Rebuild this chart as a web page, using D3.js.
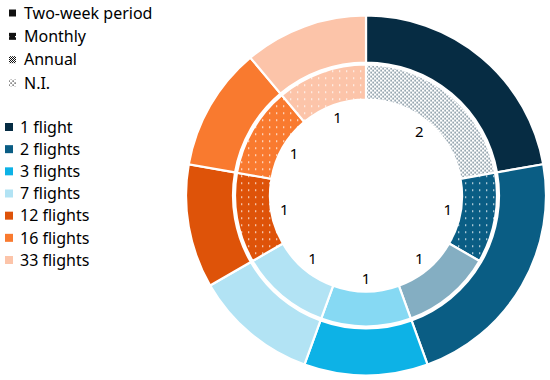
<!DOCTYPE html>
<html><head><meta charset="utf-8">
<script src="https://cdn.jsdelivr.net/npm/d3@7"></script>
<style>body{margin:0;background:#fff;} text{font-family:"Noto Sans",sans-serif;}</style>
</head><body>
<svg id="chart" width="550" height="380"></svg>
<script>
// Outer ring: number of flights
const flightCategories = ["1 flight","2 flights","3 flights","7 flights","12 flights","16 flights","33 flights"];
const flightCounts = [2,2,1,1,1,1,1];
const flightColors = ["#062c43","#0a5d84","#0db2e6","#b2e3f4","#de5309","#f97a2f","#fcc4a9"];
// Inner ring: reporting frequency within each flight group
const innerFlight = ["1 flight","2 flights","2 flights","3 flights","7 flights","12 flights","16 flights","33 flights"];
const innerFrequency = ["N.I.","Monthly","Annual","Annual","Two-week period","Monthly","Monthly","Monthly"];
const innerCounts = [2,1,1,1,1,1,1,1];
const frequencyLabels = ["Two-week period","Monthly","Annual","N.I."];

const svg = d3.select("#chart");
const defs = svg.append("defs");
const cx = 366, cy = 195.5;

function makePattern(id, type, color){
  const p = defs.append("pattern").attr("id", id).attr("patternUnits","userSpaceOnUse");
  if(type === "Two-week period"){
    p.attr("width",4).attr("height",4);
    p.append("rect").attr("width",4).attr("height",4).attr("fill",color);
  } else if(type === "Monthly"){
    p.attr("width",7).attr("height",7);
    p.append("rect").attr("width",7).attr("height",7).attr("fill",color);
    p.append("rect").attr("x",1).attr("y",1).attr("width",1.3).attr("height",1.3).attr("fill","#fff");
  } else if(type === "Annual"){
    p.attr("width",2).attr("height",2);
    p.append("rect").attr("width",2).attr("height",2).attr("fill","#fff");
    p.append("rect").attr("width",1).attr("height",1).attr("fill",color);
    p.append("rect").attr("x",1).attr("y",1).attr("width",1).attr("height",1).attr("fill",color);
  } else {
    p.attr("width",4).attr("height",4);
    p.append("rect").attr("width",4).attr("height",4).attr("fill","#fff");
    p.append("rect").attr("x",0.5).attr("y",0.5).attr("width",1.2).attr("height",1.2).attr("fill",color);
    p.append("rect").attr("x",2.5).attr("y",2.5).attr("width",1.2).attr("height",1.2).attr("fill",color);
  }
  return "url(#"+id+")";
}

const colorScale = d3.scaleOrdinal().domain(flightCategories).range(flightColors);
const pie = d3.pie().sort(null).value(d => d.v);

const outerData = pie(flightCategories.map((c,i)=>({c, v: flightCounts[i]})));
const innerData = pie(innerFlight.map((c,i)=>({c, f: innerFrequency[i], v: innerCounts[i]})));

const outerArc = d3.arc().innerRadius(133).outerRadius(180);
const innerArc = d3.arc().innerRadius(96).outerRadius(131);
const labelArc = d3.arc().innerRadius(83).outerRadius(83);

const g = svg.append("g").attr("transform",`translate(${cx},${cy})`);
g.selectAll("path.outer").data(outerData).join("path")
  .attr("class","outer").attr("d",outerArc)
  .attr("fill",d=>colorScale(d.data.c)).attr("stroke","#fff").attr("stroke-width",2.2);

g.selectAll("path.inner").data(innerData).join("path")
  .attr("class","inner").attr("d",innerArc)
  .attr("fill",(d,i)=>makePattern("p"+i, d.data.f, colorScale(d.data.c)))
  .attr("stroke","#fff").attr("stroke-width",2.2);

g.selectAll("text.lbl").data(innerData).join("text")
  .attr("class","lbl")
  .attr("transform",d=>`translate(${labelArc.centroid(d)})`)
  .attr("text-anchor","middle").attr("dy","0.36em")
  .attr("font-size",15).attr("fill","#000")
  .text(d=>d.data.v);

// Frequency legend
const legendBlack = "#111";
const fl = svg.append("g");
const fy = d3.scalePoint().domain(frequencyLabels).range([13, 83]);
frequencyLabels.forEach((f,i)=>{
  const fill = makePattern("lg"+i, f, legendBlack);
  fl.append("rect").attr("x",9).attr("y",fy(f)-3.5).attr("width",7).attr("height",7).attr("fill",fill);
  fl.append("text").attr("x",24).attr("y",fy(f)).attr("dy","0.36em").attr("font-size",16).attr("fill","#000").text(f);
});

// Flights legend
const ly = d3.scalePoint().domain(flightCategories).range([127, 260]);
const ll = svg.append("g");
flightCategories.forEach(c=>{
  ll.append("rect").attr("x",5).attr("y",ly(c)-4).attr("width",8).attr("height",8).attr("fill",colorScale(c));
  ll.append("text").attr("x",20).attr("y",ly(c)).attr("dy","0.36em").attr("font-size",16).attr("fill","#000").text(c);
});
</script>
</body></html>
